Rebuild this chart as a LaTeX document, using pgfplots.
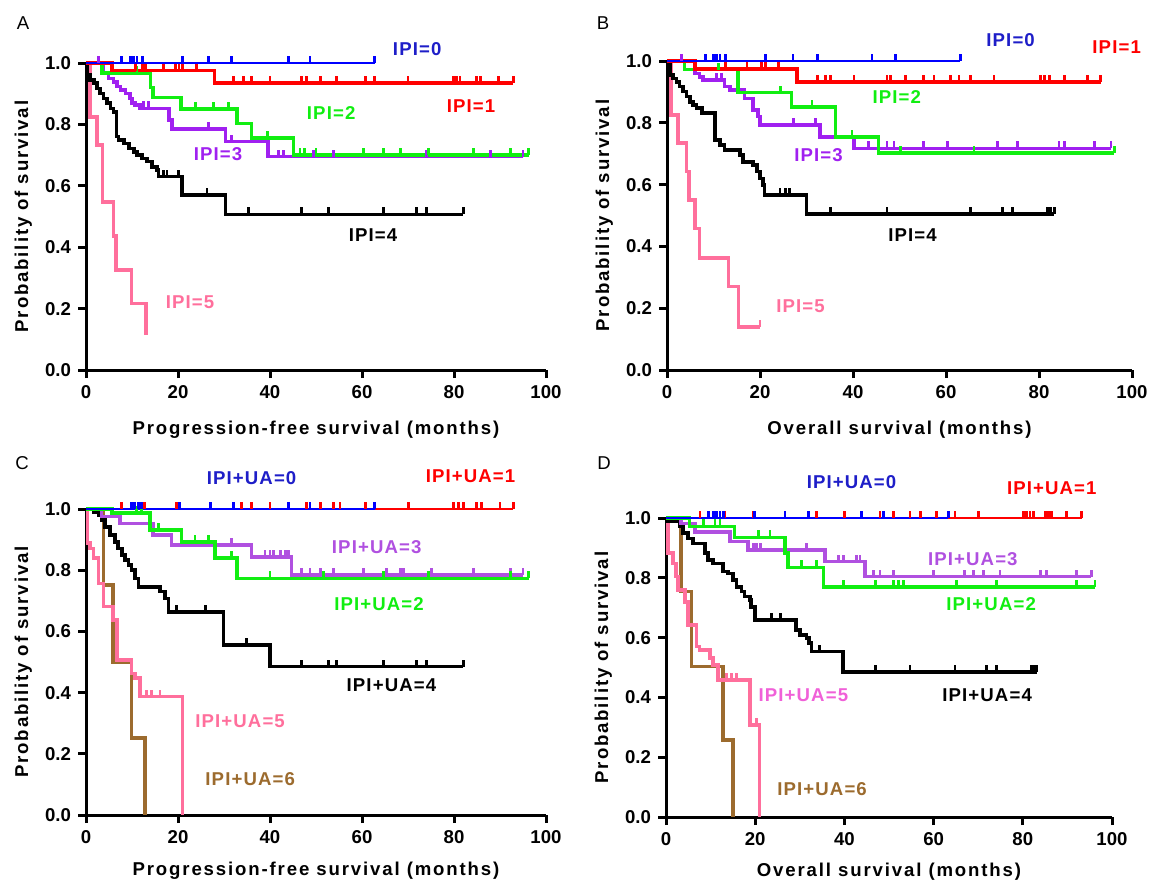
\documentclass[border=0pt]{standalone}
\usepackage{fontspec}
\setmainfont{Liberation Sans}
\newfontfamily\spacedfont{Liberation Sans}[LetterSpace=10]
\newfontfamily\curvefont{Liberation Sans}[LetterSpace=6]
\usepackage{pgfplots}
\pgfplotsset{compat=1.18}

\definecolor{kmblue}{HTML}{0000FF}
\definecolor{lblblue}{HTML}{1E1EC8}
\definecolor{kmred}{HTML}{FF0000}
\definecolor{kmgreen}{HTML}{11EE11}
\definecolor{kmpurple}{HTML}{A020F0}
\definecolor{kmpurple2}{HTML}{B050E0}
\definecolor{kmpink}{HTML}{FF6F9C}
\definecolor{kmmag}{HTML}{F060D8}
\definecolor{kmbrown}{HTML}{9C6B2E}

% censoring tick: short vertical stroke above the curve
\pgfdeclareplotmark{cens}{%
  \pgfpathmoveto{\pgfqpoint{0pt}{0pt}}%
  \pgfpathlineto{\pgfqpoint{0pt}{\pgfplotmarksize}}%
  \pgfusepathqstroke}

\newcommand\tickfont{\fontsize{9.3}{11}\selectfont\bfseries}
\newcommand\labfont{\fontsize{9.3}{11}\selectfont\spacedfont\bfseries}
\newcommand\crvfont{\fontsize{9.3}{11}\selectfont\curvefont\bfseries}

\tikzset{lb/.style={font=\crvfont, text=#1}}

\pgfplotsset{
  km/.style={
    scale only axis, xmin=0, xmax=100, ymin=0, ymax=1,
    axis lines=left, axis line style={-, line width=1.5pt},
    xtick={0,20,40,60,80,100}, ytick={0,0.2,0.4,0.6,0.8,1},
    tick align=outside, major tick length=4pt,
    tick style={line width=1.5pt, black},
    tick label style={font=\tickfont},
    /pgf/number format/assume math mode=true,
    yticklabel style={/pgf/number format/fixed, /pgf/number format/fixed zerofill,
      /pgf/number format/precision=1},
    every axis x label/.style={at={(axis description cs:0.5,0)}, anchor=base,
      yshift=-32pt, font=\labfont},
    every axis y label/.style={at={(axis description cs:0,0.5)}, rotate=90,
      anchor=base, yshift=29pt, font=\labfont},
    clip=false,
  },
  ln/.style={const plot, line width=1.8pt, color=#1},
  cs/.style={only marks, mark=cens, mark size=3.5pt, color=#1,
    mark options={line width=1.4pt}},
}

\begin{document}
\begin{tikzpicture}
\useasboundingbox (0,0) rectangle (575.5pt,-439.5pt);
\node[font=\fontsize{9.3}{11}\selectfont] at (11.5pt,-11.5pt) {A};
\node[font=\fontsize{9.3}{11}\selectfont] at (301.5pt,-11.5pt) {B};
\node[font=\fontsize{9.3}{11}\selectfont] at (11pt,-231.5pt) {C};
\node[font=\fontsize{9.3}{11}\selectfont] at (302pt,-231.5pt) {D};

% ---------------- A ----------------
\begin{axis}[km, at={(43pt,-185pt)}, anchor=south west, width=230pt, height=153.5pt,
  xlabel={Progression-free survival (months)}, ylabel={Probability of survival}]
\addplot[ln=kmpink] coordinates {(0,1)(0.9,0.825)(2.4,0.733)(3.6,0.548)(6,0.437)(6.5,0.326)(9.9,0.217)(13,0.114)};
\addplot[ln=black] coordinates {(0,1)(0.2,0.961)(0.9,0.945)(1.7,0.934)(2.4,0.917)(3.1,0.901)(3.8,0.885)(4.6,0.869)(5.3,0.852)(6,0.841)(6.6,0.76)(7.1,0.749)(8.2,0.738)(9.3,0.722)(10.4,0.711)(11.1,0.7)(12.2,0.689)(13.3,0.679)(14.3,0.662)(15.4,0.651)(15.8,0.63)(20.9,0.57)(30.3,0.507)(82,0.507)};
\addplot[cs=black] coordinates {(16.9,0.63)(17.6,0.63)(20.1,0.63)(26.3,0.57)(35.4,0.507)(46.9,0.507)(52.7,0.507)(64.6,0.507)(71.9,0.507)(74.1,0.507)(82,0.507)};
\addplot[ln=kmpurple] coordinates {(0,1)(3.8,0.966)(4.9,0.95)(6,0.939)(6.7,0.923)(7.5,0.912)(8.6,0.901)(9.6,0.885)(10,0.869)(10.7,0.863)(11.8,0.852)(18,0.814)(18.7,0.785)(30.3,0.744)(39.6,0.695)(95,0.695)};
\addplot[cs=kmpurple] coordinates {(2.7,1)(12.5,0.852)(13.6,0.852)(26.7,0.785)(31.7,0.744)(41.8,0.695)(42.9,0.695)(49.4,0.695)(53.8,0.695)(74.1,0.695)(88,0.695)(95,0.695)};
\addplot[ln=kmgreen] coordinates {(0,1)(3.5,0.968)(14,0.92)(14.6,0.888)(20.6,0.851)(32.8,0.803)(36,0.755)(45.1,0.7)(96.2,0.7)};
\addplot[cs=kmgreen] coordinates {(11.1,0.968)(23.8,0.851)(27.8,0.851)(31,0.851)(39.5,0.755)(46.5,0.7)(47.5,0.7)(50,0.7)(60.3,0.7)(64.6,0.7)(68.3,0.7)(74.4,0.7)(84.2,0.7)(92.2,0.7)(96.2,0.7)};
\addplot[ln=kmred] coordinates {(0,1)(5.6,0.975)(27.9,0.934)(92.9,0.934)};
\addplot[cs=kmred] coordinates {(10.7,0.975)(12.2,0.975)(12.9,0.975)(16.9,0.975)(19.4,0.975)(20.2,0.975)(20.9,0.975)(24.1,0.975)(32.1,0.934)(34.2,0.934)(36,0.934)(40,0.934)(46.9,0.934)(48,0.934)(50.9,0.934)(54.5,0.934)(60.7,0.934)(62.8,0.934)(70,0.934)(79.9,0.934)(80.6,0.934)(81.3,0.934)(84.9,0.934)(85.7,0.934)(89.6,0.934)(92.9,0.934)};
\addplot[ln=kmblue, line width=1pt] coordinates {(0,1)(62.8,1)};
\addplot[cs=kmblue] coordinates {(7.8,1)(9.6,1)(10.4,1)(11.1,1)(12.2,1)(20.9,1)(26.7,1)(31.7,1)(44,1)(48.7,1)(62.8,1)};
\node[lb=lblblue] at (axis cs:72,1.046) {IPI=0};
\node[lb=kmred] at (axis cs:83.7,0.86) {IPI=1};
\node[lb=kmgreen] at (axis cs:53.3,0.836) {IPI=2};
\node[lb=kmpurple] at (axis cs:28.7,0.702) {IPI=3};
\node[lb=black] at (axis cs:62.4,0.441) {IPI=4};
\node[lb=kmpink] at (axis cs:22.6,0.22) {IPI=5};
\end{axis}

% ---------------- B ----------------
\begin{axis}[km, at={(333.5pt,-185pt)}, anchor=south west, width=232.5pt, height=154.5pt,
  xlabel={Overall survival (months)}, ylabel={Probability of survival}]
\addplot[ln=kmpink] coordinates {(0,1)(0.9,0.825)(2.4,0.734)(4.2,0.642)(4.7,0.55)(6,0.458)(7,0.362)(13.2,0.27)(15.4,0.14)(20,0.14)};
\addplot[cs=kmpink] coordinates {(20,0.14)};
\addplot[ln=black] coordinates {(0,1)(0.6,0.955)(1.3,0.944)(2,0.933)(2.7,0.917)(3.4,0.901)(4.2,0.885)(4.9,0.868)(5.6,0.858)(6.3,0.847)(7.5,0.831)(10.3,0.744)(11.4,0.728)(12.4,0.712)(15.7,0.696)(16.4,0.674)(18.5,0.663)(19.3,0.642)(20,0.62)(20.7,0.599)(21,0.566)(30,0.504)(83.3,0.504)};
\addplot[cs=black] coordinates {(24.3,0.566)(25.4,0.566)(26.4,0.566)(35.1,0.504)(47.3,0.504)(65.3,0.504)(72.1,0.504)(74.3,0.504)(81.8,0.504)(82.5,0.504)(83.3,0.504)};
\addplot[ln=kmpurple] coordinates {(0,1)(6,0.96)(7,0.949)(7.8,0.938)(12.4,0.917)(13.5,0.906)(16.7,0.879)(18.5,0.841)(19.6,0.82)(20,0.793)(32.9,0.755)(40.2,0.717)(95.5,0.717)};
\addplot[cs=kmpurple] coordinates {(3.2,1)(10.6,0.938)(11.7,0.938)(27.2,0.793)(31.9,0.793)(43.4,0.717)(47.3,0.717)(48.8,0.717)(55.2,0.717)(60.3,0.717)(71,0.717)(75.4,0.717)(84.3,0.717)(85.4,0.717)(91.9,0.717)(95.5,0.717)};
\addplot[ln=kmgreen] coordinates {(0,1)(3.8,0.972)(15.3,0.898)(26.8,0.852)(36.2,0.755)(45.5,0.703)(96.2,0.703)};
\addplot[cs=kmgreen] coordinates {(11.1,0.972)(24.4,0.898)(31.2,0.852)(39.8,0.755)(50.2,0.703)(66,0.703)(96.2,0.703)};
\addplot[ln=kmred] coordinates {(0,1)(6,0.975)(27.9,0.933)(93.3,0.933)};
\addplot[cs=kmred] coordinates {(12.5,0.975)(17.2,0.975)(20.4,0.975)(21.1,0.975)(24,0.975)(32.3,0.933)(34.1,0.933)(35.1,0.933)(40.2,0.933)(47.3,0.933)(48.1,0.933)(51.3,0.933)(55.2,0.933)(57.4,0.933)(61,0.933)(62.8,0.933)(65.3,0.933)(70.3,0.933)(80.4,0.933)(81.1,0.933)(82.2,0.933)(85.4,0.933)(90.4,0.933)(93.3,0.933)};
\addplot[ln=kmblue, line width=1pt] coordinates {(0,1)(63.1,1)};
\addplot[cs=kmblue] coordinates {(8.2,1)(10,1)(10.7,1)(11.4,1)(12.5,1)(21.1,1)(27.1,1)(32.3,1)(44.1,1)(49.1,1)(63.1,1)};
\node[lb=lblblue] at (axis cs:73.9,1.067) {IPI=0};
\node[lb=kmred] at (axis cs:96.7,1.044) {IPI=1};
\node[lb=kmgreen] at (axis cs:49.4,0.885) {IPI=2};
\node[lb=kmpurple] at (axis cs:32.6,0.694) {IPI=3};
\node[lb=black] at (axis cs:52.8,0.437) {IPI=4};
\node[lb=kmpink] at (axis cs:28.7,0.207) {IPI=5};
\end{axis}

% ---------------- C ----------------
\begin{axis}[km, at={(43pt,-407.5pt)}, anchor=south west, width=230pt, height=153pt,
  xlabel={Progression-free survival (months)}, ylabel={Probability of survival},
  xlabel style={yshift=2pt}]
\addplot[ln=kmbrown] coordinates {(0,1)(3.8,0.752)(5.9,0.501)(9.9,0.251)(12.8,0)};
\addplot[ln=kmpink] coordinates {(0,1)(0.3,0.888)(0.9,0.871)(1.6,0.839)(2.7,0.757)(3.8,0.681)(5.9,0.637)(6.7,0.507)(9.9,0.463)(10.7,0.447)(11.7,0.387)(21,0)};
\addplot[cs=kmpink] coordinates {(13.2,0.387)(14.3,0.387)(16.1,0.387)};
\addplot[ln=black] coordinates {(0,1)(1.6,0.991)(2.7,0.98)(3.4,0.964)(4.1,0.942)(5.2,0.915)(6.3,0.893)(7,0.871)(7.8,0.85)(8.5,0.833)(9.2,0.817)(9.9,0.801)(10.7,0.773)(11.4,0.746)(16.1,0.73)(17.2,0.708)(17.9,0.664)(29.9,0.556)(40,0.485)(82,0.485)};
\addplot[cs=black] coordinates {(19.7,0.664)(25.9,0.664)(34.9,0.556)(46.9,0.485)(52.7,0.485)(54.5,0.485)(64.6,0.485)(71.9,0.485)(74.1,0.485)(82,0.485)};
\addplot[ln=kmpurple2] coordinates {(0,1)(3.4,0.975)(7.4,0.953)(14.6,0.915)(18.6,0.882)(36,0.844)(44.7,0.784)(95,0.784)};
\addplot[cs=kmpurple2] coordinates {(31.7,0.882)(38.9,0.844)(40,0.844)(40.7,0.844)(42.2,0.844)(43.3,0.844)(44,0.844)(46.9,0.784)(48.7,0.784)(50.9,0.784)(53.8,0.784)(60.3,0.784)(65.4,0.784)(68.3,0.784)(69,0.784)(75.1,0.784)(84.2,0.784)(92.2,0.784)(95,0.784)};
\addplot[ln=kmgreen] coordinates {(0,1)(5.6,0.986)(13.9,0.931)(20.8,0.893)(28,0.839)(32.8,0.773)(96.2,0.773)};
\addplot[cs=kmgreen] coordinates {(11,0.986)(12.1,0.986)(15.7,0.931)(23.7,0.893)(26.6,0.893)(31.7,0.839)(40,0.773)(51.6,0.773)(64.6,0.773)(74.4,0.773)(92.2,0.773)(96.2,0.773)};
\addplot[ln=kmred, line width=1pt] coordinates {(0,1)(92.9,1)};
\addplot[cs=kmred] coordinates {(7.8,1)(12.8,1)(19.7,1)(33.8,1)(36,1)(40,1)(48,1)(50.9,1)(53.8,1)(55.2,1)(60.7,1)(70.1,1)(79.9,1)(80.9,1)(82,1)(84.9,1)(86,1)(90,1)(92.9,1)};
\addplot[ln=kmblue, line width=1pt] coordinates {(0,1)(62.8,1)};
\addplot[cs=kmblue] coordinates {(9.9,1)(10.6,1)(11.4,1)(12.1,1)(20.4,1)(27,1)(32,1)(44,1)(48.7,1)(62.8,1)};
\node[lb=lblblue] at (axis cs:36,1.101) {IPI+UA=0};
\node[lb=kmred] at (axis cs:83.6,1.106) {IPI+UA=1};
\node[lb=kmpurple2] at (axis cs:63.2,0.874) {IPI+UA=3};
\node[lb=kmgreen] at (axis cs:63.7,0.69) {IPI+UA=2};
\node[lb=black] at (axis cs:66.4,0.423) {IPI+UA=4};
\node[lb=kmpink] at (axis cs:33.5,0.308) {IPI+UA=5};
\node[lb=kmbrown] at (axis cs:35.7,0.118) {IPI+UA=6};
\end{axis}

% ---------------- D ----------------
\begin{axis}[km, at={(333pt,-408.5pt)}, anchor=south west, width=223pt, height=149.5pt,
  xlabel={Overall survival (months)}, ylabel={Probability of survival},
  xlabel style={yshift=2.5pt}]
\addplot[ln=kmbrown] coordinates {(0,1)(3.4,0.754)(5.7,0.503)(12.8,0.258)(15,0)};
\addplot[ln=kmpink] coordinates {(0,1)(0.4,0.882)(1.6,0.848)(2.3,0.804)(2.7,0.759)(4.2,0.72)(4.9,0.642)(6.8,0.57)(7.5,0.559)(9.8,0.531)(10.5,0.508)(11.7,0.458)(18.8,0.308)(21,0)};
\addplot[cs=kmpink] coordinates {(13.5,0.458)(14.6,0.458)(15.8,0.458)(20.3,0.308)};
\addplot[ln=black] coordinates {(0,1)(0.3,0.988)(3.1,0.971)(3.8,0.949)(4.9,0.932)(6.1,0.915)(8.7,0.882)(9.4,0.86)(10.5,0.848)(12.8,0.821)(13.9,0.815)(15,0.793)(15.8,0.77)(16.9,0.754)(17.6,0.737)(18.8,0.726)(19.1,0.703)(19.9,0.659)(29.2,0.625)(30,0.609)(31.5,0.598)(32,0.581)(32.6,0.553)(39.7,0.486)(83.1,0.486)};
\addplot[cs=black] coordinates {(23.7,0.659)(25.6,0.659)(34.5,0.553)(46.9,0.486)(54.7,0.486)(64.8,0.486)(71.9,0.486)(74.1,0.486)(82,0.486)(82.7,0.486)(83.1,0.486)};
\addplot[ln=kmpurple2] coordinates {(0,1)(3.3,0.982)(6.5,0.954)(14.3,0.921)(18.4,0.893)(35.6,0.854)(44.6,0.804)(95.4,0.804)};
\addplot[cs=kmpurple2] coordinates {(19.6,0.893)(20.3,0.893)(21.1,0.893)(31.5,0.893)(38.6,0.854)(39.8,0.854)(42.8,0.854)(43.5,0.854)(46.5,0.804)(48,0.804)(51,0.804)(59.9,0.804)(67,0.804)(68.9,0.804)(71.2,0.804)(74.9,0.804)(83.9,0.804)(85.4,0.804)(92.1,0.804)(95.4,0.804)};
\addplot[ln=kmgreen] coordinates {(0,1)(5.3,0.972)(15.4,0.935)(26.7,0.882)(27.4,0.835)(35.3,0.77)(96.2,0.77)};
\addplot[cs=kmgreen] coordinates {(8.4,0.972)(11,0.972)(12.1,0.972)(20.7,0.935)(23.3,0.935)(30.4,0.835)(33.8,0.835)(39.8,0.77)(46.9,0.77)(51,0.77)(52.1,0.77)(53.2,0.77)(65.2,0.77)(74.1,0.77)(92.1,0.77)(96.2,0.77)};
\addplot[ln=kmred, line width=1pt] coordinates {(0,1)(93.2,1)};
\addplot[cs=kmred] coordinates {(7.6,1)(13.2,1)(19.6,1)(33.8,1)(40.1,1)(48,1)(51,1)(54.7,1)(57,1)(60.7,1)(64.8,1)(70,1)(80.1,1)(80.8,1)(81.6,1)(82.4,1)(85,1)(85.7,1)(86.5,1)(89.8,1)(93.2,1)};
\addplot[ln=kmblue, line width=1pt] coordinates {(0,1)(63.3,1)};
\addplot[cs=kmblue] coordinates {(9.5,1)(10.6,1)(11.4,1)(12.1,1)(12.9,1)(19.9,1)(26.7,1)(31.9,1)(43.9,1)(48.7,1)(63.3,1)};
\node[lb=lblblue] at (axis cs:41.6,1.119) {IPI+UA=0};
\node[lb=kmred] at (axis cs:86.5,1.099) {IPI+UA=1};
\node[lb=kmpurple2] at (axis cs:68.8,0.863) {IPI+UA=3};
\node[lb=kmgreen] at (axis cs:72.9,0.712) {IPI+UA=2};
\node[lb=black] at (axis cs:72,0.406) {IPI+UA=4};
\node[lb=kmmag] at (axis cs:30.8,0.406) {IPI+UA=5};
\node[lb=kmbrown] at (axis cs:35,0.094) {IPI+UA=6};
\end{axis}
\end{tikzpicture}
\end{document}
